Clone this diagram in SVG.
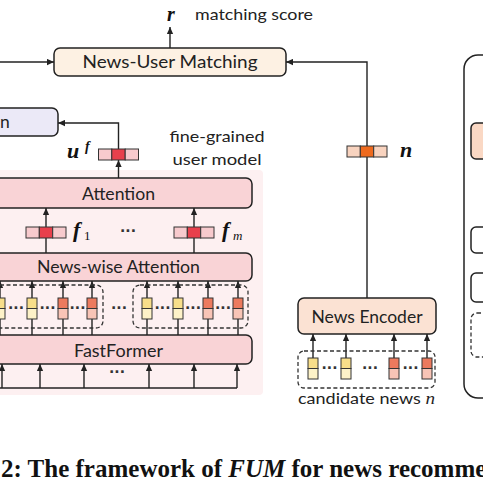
<svg xmlns="http://www.w3.org/2000/svg" xmlns:xlink="http://www.w3.org/1999/xlink" width="483" height="484" viewBox="0 0 483 484">
<style>
.box{stroke:#222;stroke-width:1.5}
.lbl{font-family:Lato,"Open Sans","Liberation Sans",sans-serif;fill:#222}
.math{font-family:"Liberation Serif",serif;fill:#111}
.dots{font-family:"DejaVu Sans",sans-serif;font-size:14px;font-weight:bold;fill:#333;text-anchor:middle}
.conn{stroke:#222;stroke-width:1.4;fill:none}
.dash{stroke:#333;stroke-width:1.3;fill:none;stroke-dasharray:4 2.5}
.cell{stroke:#333;stroke-width:1}
</style>
<defs>
<marker id="ah" viewBox="0 0 10 10" refX="10" refY="5" markerWidth="7" markerHeight="7" markerUnits="userSpaceOnUse" orient="auto">
<path d="M0,0.5 L10,5 L0,9.5 z" fill="#222"/>
</marker>
<g id="tokY"><rect x="-5" y="0" width="10" height="10.5" fill="#f8de8a" class="cell"/><rect x="-5" y="10.5" width="10" height="10.5" fill="#fdf2c8" class="cell"/></g>
<g id="tokR"><rect x="-5" y="0" width="10" height="10.5" fill="#ec7a5e" class="cell"/><rect x="-5" y="10.5" width="10" height="10.5" fill="#f8c4b6" class="cell"/></g>
<g id="vecP"><rect x="-20" y="0" width="13.3" height="11" fill="#f7cacd" class="cell"/><rect x="-6.7" y="0" width="13.4" height="11" fill="#e8404c" class="cell"/><rect x="6.7" y="0" width="13.3" height="11" fill="#f7cacd" class="cell"/></g>
<g id="vecO"><rect x="-20" y="0" width="13.3" height="11" fill="#f8d3bf" class="cell"/><rect x="-6.7" y="0" width="13.4" height="11" fill="#ee6a1e" class="cell"/><rect x="6.7" y="0" width="13.3" height="11" fill="#f8d3bf" class="cell"/></g>
</defs>

<g id="fine-grained-bg">
<rect x="-6" y="170" width="269" height="225" rx="4" fill="#fdf0f1"/>
</g>

<g id="connectors">
<line class="conn" x1="170" y1="48" x2="170" y2="27" marker-end="url(#ah)"/>
<line class="conn" x1="-2" y1="62" x2="54" y2="62" marker-end="url(#ah)"/>
<polyline class="conn" points="367,298 367,62 286,62" marker-end="url(#ah)"/>
<polyline class="conn" points="118.5,149 118.5,123 58,123" marker-end="url(#ah)"/>
<line class="conn" x1="118.5" y1="178" x2="118.5" y2="160" marker-end="url(#ah)"/>
<line class="conn" x1="46" y1="253" x2="46" y2="208" marker-end="url(#ah)"/>
<line class="conn" x1="194" y1="253" x2="194" y2="208" marker-end="url(#ah)"/>
<g>
<line class="conn" x1="0" y1="335" x2="0" y2="281" marker-end="url(#ah)"/>
<line class="conn" x1="32" y1="335" x2="32" y2="281" marker-end="url(#ah)"/>
<line class="conn" x1="63" y1="335" x2="63" y2="281" marker-end="url(#ah)"/>
<line class="conn" x1="92" y1="335" x2="92" y2="281" marker-end="url(#ah)"/>
<line class="conn" x1="147" y1="335" x2="147" y2="281" marker-end="url(#ah)"/>
<line class="conn" x1="178" y1="335" x2="178" y2="281" marker-end="url(#ah)"/>
<line class="conn" x1="208" y1="335" x2="208" y2="281" marker-end="url(#ah)"/>
<line class="conn" x1="238" y1="335" x2="238" y2="281" marker-end="url(#ah)"/>
</g>
<g>
<polyline class="conn" points="-5,388 237,388"/>
<line class="conn" x1="2" y1="388" x2="2" y2="364" marker-end="url(#ah)"/>
<line class="conn" x1="40" y1="388" x2="40" y2="364" marker-end="url(#ah)"/>
<line class="conn" x1="84" y1="388" x2="84" y2="364" marker-end="url(#ah)"/>
<line class="conn" x1="149" y1="388" x2="149" y2="364" marker-end="url(#ah)"/>
<line class="conn" x1="194" y1="388" x2="194" y2="364" marker-end="url(#ah)"/>
<line class="conn" x1="237" y1="388" x2="237" y2="364" marker-end="url(#ah)"/>
</g>
<g>
<line class="conn" x1="313" y1="358" x2="313" y2="334" marker-end="url(#ah)"/>
<line class="conn" x1="346" y1="358" x2="346" y2="334" marker-end="url(#ah)"/>
<line class="conn" x1="394" y1="358" x2="394" y2="334" marker-end="url(#ah)"/>
<line class="conn" x1="427" y1="358" x2="427" y2="334" marker-end="url(#ah)"/>
</g>
</g>

<g id="news-user-matching">
<rect class="box" x="54" y="48" width="232" height="28" rx="6" fill="#fdf1e3"/>
<text class="lbl" x="170" y="68" font-size="17.5" text-anchor="middle" textLength="175" lengthAdjust="spacingAndGlyphs">News-User Matching</text>
</g>

<g id="score">
<text class="math" x="171" y="21" font-size="20" font-style="italic" font-weight="bold" text-anchor="middle">r</text>
<text class="lbl" x="195" y="20" font-size="16" textLength="118" lengthAdjust="spacingAndGlyphs">matching score</text>
</g>

<g id="left-box">
<rect class="box" x="-12" y="108" width="70" height="28" rx="6" fill="#ebe9f7"/>
<text class="lbl" x="0" y="128" font-size="17.5">n</text>
</g>

<g id="user-vector">
<use xlink:href="#vecP" x="118.5" y="149"/>
<text class="math" x="67" y="158" font-size="22" font-style="italic" font-weight="bold">u</text>
<text class="math" x="85" y="151" font-size="14" font-style="italic" font-weight="bold">f</text>
</g>

<g id="fine-grained-label">
<text class="lbl" x="217" y="142" font-size="16" text-anchor="middle" textLength="95" lengthAdjust="spacingAndGlyphs">fine-grained</text>
<text class="lbl" x="217" y="165" font-size="16" text-anchor="middle" textLength="89" lengthAdjust="spacingAndGlyphs">user model</text>
</g>

<g id="attention">
<rect class="box" x="-12" y="178" width="264" height="30" rx="6" fill="#f9d3d6"/>
<text class="lbl" x="118.5" y="200" font-size="17" text-anchor="middle" textLength="73" lengthAdjust="spacingAndGlyphs">Attention</text>
</g>

<g id="f-vectors">
<use xlink:href="#vecP" x="46" y="227"/>
<text class="math" x="73" y="237" font-size="22" font-style="italic" font-weight="bold">f</text>
<text class="math" x="84" y="240" font-size="13">1</text>
<text class="dots" x="128" y="236">···</text>
<use xlink:href="#vecP" x="194" y="227"/>
<text class="math" x="222" y="237" font-size="22" font-style="italic" font-weight="bold">f</text>
<text class="math" x="233" y="240" font-size="13" font-style="italic">m</text>
</g>

<g id="news-wise-attention">
<rect class="box" x="-12" y="253" width="264" height="28" rx="6" fill="#f9d3d6"/>
<text class="lbl" x="118.5" y="273" font-size="17" text-anchor="middle" textLength="163" lengthAdjust="spacingAndGlyphs">News-wise Attention</text>
</g>

<g id="clicked-news">
<rect class="dash" x="-20" y="285" width="123" height="43" rx="7"/>
<rect class="dash" x="133" y="285" width="115" height="43" rx="7"/>
<use xlink:href="#tokY" x="0" y="298"/>
<use xlink:href="#tokY" x="32" y="298"/>
<use xlink:href="#tokR" x="63" y="298"/>
<use xlink:href="#tokR" x="92" y="298"/>
<use xlink:href="#tokY" x="147" y="298"/>
<use xlink:href="#tokY" x="178" y="298"/>
<use xlink:href="#tokR" x="208" y="298"/>
<use xlink:href="#tokR" x="238" y="298"/>
<text class="dots" x="16" y="313">···</text>
<text class="dots" x="47.5" y="313">···</text>
<text class="dots" x="77.5" y="313">···</text>
<text class="dots" x="119" y="313">···</text>
<text class="dots" x="162.5" y="313">···</text>
<text class="dots" x="193" y="313">···</text>
<text class="dots" x="223" y="313">···</text>
</g>

<g id="fastformer">
<rect class="box" x="-12" y="335" width="264" height="29" rx="6" fill="#f9d3d6"/>
<text class="lbl" x="118.5" y="357" font-size="17" text-anchor="middle" textLength="89" lengthAdjust="spacingAndGlyphs">FastFormer</text>
<text class="dots" x="117" y="377">···</text>
</g>

<g id="news-vector">
<use xlink:href="#vecO" x="367" y="146"/>
<text class="math" x="400" y="157" font-size="22" font-style="italic" font-weight="bold">n</text>
</g>

<g id="news-encoder">
<rect class="box" x="298" y="298" width="138" height="36" rx="6" fill="#fbe2d3"/>
<text class="lbl" x="367" y="323" font-size="17" text-anchor="middle" textLength="111" lengthAdjust="spacingAndGlyphs">News Encoder</text>
</g>

<g id="candidate-news">
<rect class="dash" x="298" y="351" width="137" height="37" rx="6"/>
<use xlink:href="#tokY" x="313" y="358"/>
<use xlink:href="#tokY" x="346" y="358"/>
<use xlink:href="#tokR" x="394" y="358"/>
<use xlink:href="#tokR" x="427" y="358"/>
<text class="dots" x="329.5" y="373">···</text>
<text class="dots" x="370" y="373">···</text>
<text class="dots" x="410.5" y="373">···</text>
<text class="lbl" x="298" y="404" font-size="16" textLength="137" lengthAdjust="spacingAndGlyphs">candidate news <tspan font-family="Liberation Serif,serif" font-style="italic" font-size="17">n</tspan></text>
</g>

<g id="right-panel">
<rect class="box" x="464" y="55" width="70" height="343" rx="14" fill="#fff"/>
<rect class="box" x="471" y="123" width="40" height="36" rx="5" fill="#fad8c4"/>
<rect class="box" x="471" y="227" width="40" height="26" rx="5" fill="#fff"/>
<rect class="box" x="471" y="273" width="40" height="29" rx="5" fill="#fff"/>
<rect class="dash" x="471" y="313" width="40" height="44" rx="6"/>
</g>

<g id="caption">
<text x="1" y="477" font-family="Liberation Serif,serif" font-weight="bold" font-size="25" fill="#111">2: The framework of <tspan font-style="italic">FUM</tspan> for news recommen</text>
</g>
</svg>
